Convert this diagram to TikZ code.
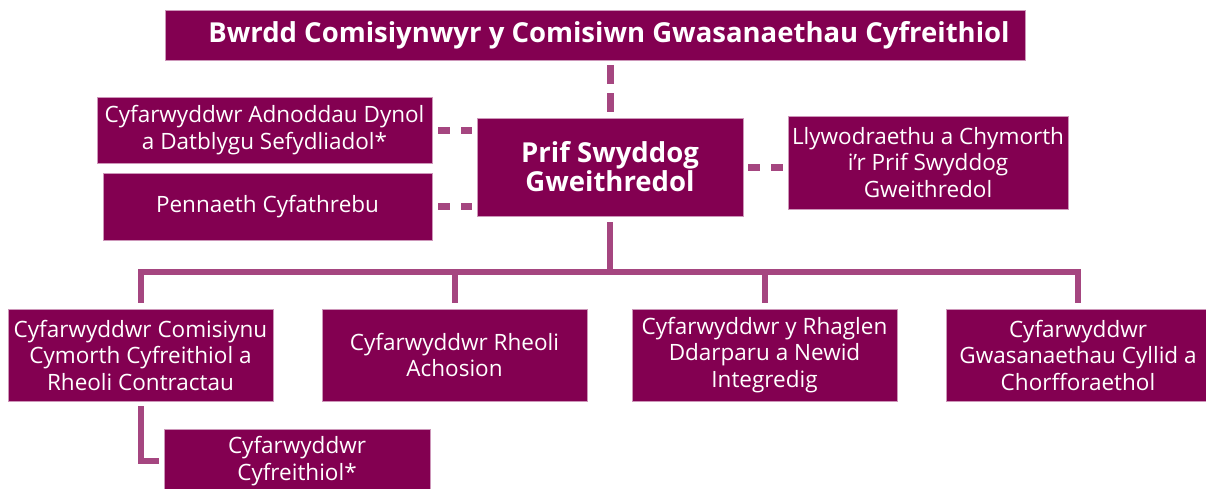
\documentclass[tikz,border=0pt]{standalone}
\usepackage{fontspec}
\setmainfont{Open Sans}
\usetikzlibrary{positioning,calc}
\definecolor{plum}{RGB}{131,0,81}
\definecolor{plumedge}{RGB}{205,150,185}
\definecolor{plumline}{RGB}{165,70,128}
\tikzset{
	x=1pt, y=-1pt,
	unit/.style={draw=plumedge, line width=0.5pt, fill=plum, text=white, align=center, inner sep=0pt,
		font=\fontsize{22.5}{26.5}\selectfont},
	head/.style={unit, font=\bfseries\fontsize{27.5}{29}\selectfont},
	dashline/.style={plumline, line width=7pt},
	treeline/.style={plumline, line width=6pt},
}
\begin{document}
\begin{tikzpicture}
	\useasboundingbox (0,0) rectangle (1206,488);
	\node[head, minimum width=860, minimum height=50] (board) at (595,35) {\hspace*{28pt}Bwrdd Comisiynwyr y Comisiwn Gwasanaethau Cyfreithiol};
	\node[head, minimum width=266, minimum height=98] (ceo) at (610,167) {Prif Swyddog\\Gweithredol};
	\node[unit, minimum width=335, minimum height=66] (hr) at (264.5,130) {Cyfarwyddwr Adnoddau Dynol\\a Datblygu Sefydliadol*};
	\node[unit, minimum width=329, minimum height=67] (comms) at (267.5,206.5) {Pennaeth Cyfathrebu};
	\node[unit, minimum width=280, minimum height=93] (gov) at (928,162.5) {Llywodraethu a Chymorth\\i'r Prif Swyddog\\Gweithredol};
	% directorates
	\node[unit, minimum width=265, minimum height=92] (commission) at (140.5,355) {Cyfarwyddwr Comisiynu\\Cymorth Cyfreithiol a\\Rheoli Contractau};
	\node[unit, minimum width=265, minimum height=92] (casemgmt) at (454.5,355) {Cyfarwyddwr Rheoli\\Achosion};
	\node[unit, minimum width=265, minimum height=92] (programme) at (764.5,355) {Cyfarwyddwr y Rhaglen\\Ddarparu a Newid\\Integredig};
	\node[unit, minimum width=264, minimum height=92] (finance) at (1078,355) {Cyfarwyddwr\\Gwasanaethau Cyllid a\\Chorfforaethol};
	\node[unit, minimum width=266, minimum height=64] (legal) at (297,461) {Cyfarwyddwr\\Cyfreithiol*};
	% dashed links
	\draw[dashline, dash pattern=on 19pt off 9pt] ([yshift=-5pt]ceo.north |- board.south) -- ([yshift=6pt]ceo.north);
	\draw[dashline, dash pattern=on 12pt off 11pt] ([xshift=6pt]hr.east) -- ([xshift=-4.5pt]hr.east -| ceo.west);
	\draw[dashline, dash pattern=on 12pt off 11pt] ([xshift=6pt]comms.east) -- ([xshift=-4.5pt]comms.east -| ceo.west);
	\draw[dashline, dash pattern=on 12pt off 11pt] ([xshift=5pt]ceo.east) -- ([xshift=-5pt]ceo.east -| gov.west);
	% tree
	\coordinate (bar) at (610,272);
	\draw[treeline] ([yshift=-6pt]ceo.south) -- (bar);
	\foreach \d in {commission,casemgmt,programme,finance}
		\draw[treeline] ([yshift=6pt]\d.north) |- (bar);
	\draw[treeline] ([yshift=-5pt]commission.south) |- ([xshift=-5pt]legal.west);
\end{tikzpicture}
\end{document}
